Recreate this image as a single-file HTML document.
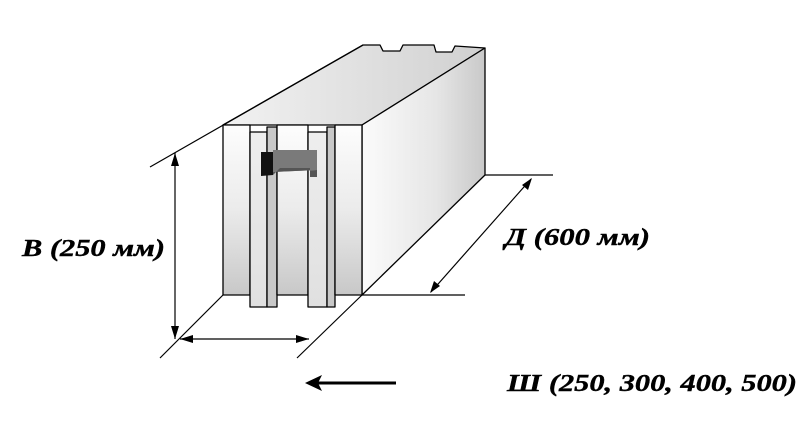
<!DOCTYPE html>
<html><head><meta charset="utf-8"><style>html,body{margin:0;padding:0;background:#fff}
.t{font-family:"Liberation Serif","DejaVu Serif",serif;font-weight:bold;font-style:italic;font-size:24px}</style></head>
<body>
<svg width="808" height="430" viewBox="0 0 808 430" xmlns="http://www.w3.org/2000/svg">
<defs>
<linearGradient id="rf" x1="0" x2="1" y1="0" y2="0">
<stop offset="0" stop-color="#fbfbfb"/><stop offset="0.6" stop-color="#e6e6e6"/><stop offset="1" stop-color="#c9c9c9"/></linearGradient>
<linearGradient id="tp" x1="0" x2="1" y1="0" y2="0">
<stop offset="0" stop-color="#f2f2f2"/><stop offset="1" stop-color="#d0d0d0"/></linearGradient>
<linearGradient id="fv" x1="0" x2="0" y1="0" y2="1">
<stop offset="0" stop-color="#fdfdfd"/><stop offset="0.5" stop-color="#ebebeb"/><stop offset="1" stop-color="#c8c8c8"/></linearGradient>
<linearGradient id="fs" x1="0" x2="0" y1="0" y2="1">
<stop offset="0" stop-color="#eeeeee"/><stop offset="1" stop-color="#e0e0e0"/></linearGradient>
</defs>
<g stroke="#000" stroke-width="1.3" stroke-linejoin="round">
<polygon points="223,125 363,45 380,45 383,51 400,51 403,45 434,45 436,52 452,52 455,46 485,48 362,125" fill="url(#tp)"/>
<polygon points="362,125 485,48 485,175 362,295" fill="url(#rf)"/>
<rect x="223" y="125" width="27" height="170" fill="url(#fv)"/>
<rect x="250" y="132" width="17" height="175" fill="url(#fs)"/>
<rect x="267" y="127" width="10" height="180" fill="#c8c8c8"/>
<rect x="277" y="125" width="31" height="170" fill="url(#fv)"/>
<rect x="308" y="132" width="19" height="175" fill="url(#fs)"/>
<rect x="327" y="127" width="8" height="180" fill="#c8c8c8"/>
<rect x="335" y="125" width="27" height="170" fill="url(#fv)"/>
</g>
<polygon points="261,152 273,152 273,175 261,176" fill="#111"/>
<polygon points="273,150 317,150 317,170 273,172" fill="#7a7a7a"/>
<polygon points="273,172 317,170 317,177 310,177 310,168 280,168 273,175" fill="#555"/>
<g stroke="#000" stroke-width="1.2" fill="none">
<line x1="363" y1="45" x2="150" y2="167"/>
<line x1="223" y1="295" x2="160" y2="358"/>
<line x1="362" y1="295" x2="297" y2="358"/>
<line x1="362" y1="295" x2="465" y2="295"/>
<line x1="485" y1="175" x2="553" y2="175"/>
<line x1="175" y1="153" x2="175" y2="339"/>
<line x1="180" y1="339" x2="309" y2="339"/>
<line x1="531" y1="179" x2="431" y2="292"/>
</g>
<g fill="#000">
<polygon points="175,153 171,166 179,166"/>
<polygon points="175,339 171,326 179,326"/>
<polygon points="180,339 193,335 193,343"/>
<polygon points="309,339 296,335 296,343"/>
<polygon points="532,178 522,185 528,190"/>
<polygon points="430,293 434,281 440,286"/>
</g>
<line x1="318" y1="383" x2="396" y2="383" stroke="#000" stroke-width="3"/>
<polygon points="305,383 322,375 318,383 322,391" fill="#000"/>
<g class="t" fill="#000" stroke="#000" stroke-width="0.4">
<text x="22" y="256" textLength="143" lengthAdjust="spacingAndGlyphs">В (250 мм)</text>
<text x="505" y="245" textLength="145" lengthAdjust="spacingAndGlyphs">Д (600 мм)</text>
<text x="507" y="391" textLength="290" lengthAdjust="spacingAndGlyphs">Ш (250, 300, 400, 500)</text>
</g>
</svg>
</body></html>
